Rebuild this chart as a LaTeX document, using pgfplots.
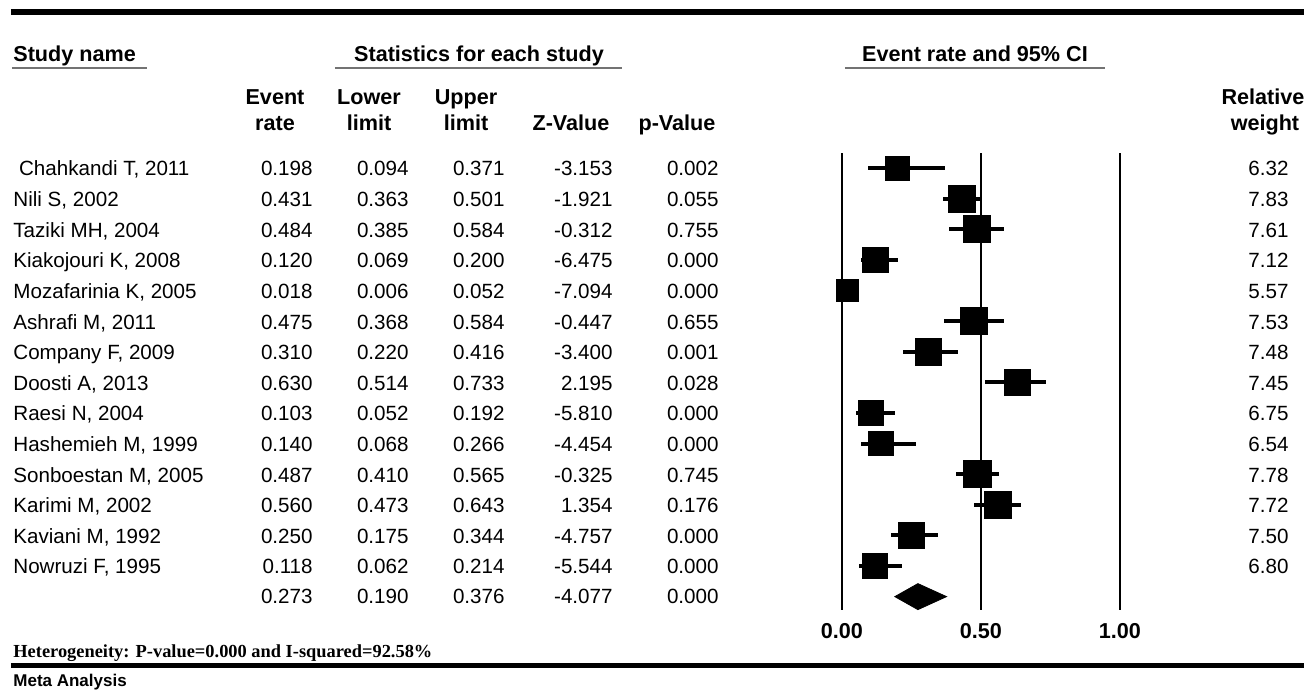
\documentclass[border=0pt]{standalone}
\usepackage{fontspec}
\setmainfont{Liberation Sans}
\newfontfamily\timesfont{Liberation Serif}
\usepackage{pgfplots}
\pgfplotsset{compat=1.18}
\usepackage{pgfplotstable}

% row, event rate, lower limit, upper limit, relative weight
\pgfplotstableread{
r  est   lo    hi    w
1  0.198 0.094 0.371 6.32
2  0.431 0.363 0.501 7.83
3  0.484 0.385 0.584 7.61
4  0.120 0.069 0.200 7.12
5  0.018 0.006 0.052 5.57
6  0.475 0.368 0.584 7.53
7  0.310 0.220 0.416 7.48
8  0.630 0.514 0.733 7.45
9  0.103 0.052 0.192 6.75
10 0.140 0.068 0.266 6.54
11 0.487 0.410 0.565 7.78
12 0.560 0.473 0.643 7.72
13 0.250 0.175 0.344 7.50
14 0.118 0.062 0.214 6.80
}\studies

\newcommand{\bodyfont}{\fontsize{10.3bp}{12bp}\selectfont}
\newcommand{\headfont}{\fontsize{10.8bp}{13bp}\selectfont\bfseries}

\begin{document}
\begin{tikzpicture}
\begin{axis}[
  at={(0,0)}, anchor=north west,
  scale only axis, width=652bp, height=346bp,
  xmin=-3.02878, xmax=1.66187,
  ymin=-4.4875, ymax=18.1157, y dir=reverse,
  hide axis, clip=false]
% reference lines at 0, 0.5, 1
\addplot[black, line width=1bp, forget plot] coordinates {(0,0.51) (0,15.44)};
\addplot[black, line width=1bp, forget plot] coordinates {(0.5,0.51) (0.5,15.44)};
\addplot[black, line width=1bp, forget plot] coordinates {(1,0.51) (1,15.44)};
% confidence intervals
\addplot[black, only marks, mark=none,
  error bars/.cd, x dir=both, x explicit, error mark=none,
  error bar style={line width=2bp}]
  table[x=est, y=r,
    x error plus expr=\thisrow{hi}-\thisrow{est},
    x error minus expr=\thisrow{est}-\thisrow{lo}] \studies;
% squares sized by weight
\addplot[scatter, only marks, mark=square*,
  scatter/use mapped color={draw=black, fill=black},
  visualization depends on={2.5+0.55*\thisrow{w} \as \msz},
  scatter/@pre marker code/.append style={/tikz/mark size=\msz bp}]
  table[x=est, y=r] \studies;
% pooled estimate
\addplot[black, fill=black] coordinates {(0.190,15) (0.273,14.575) (0.376,15) (0.273,15.425)} -- cycle;
\end{axis}

% text and rules, in pixel coordinates of the reference
\begin{scope}[x=0.5bp, y=-0.5bp, every node/.style={inner sep=0pt}]
\draw[line width=3bp] (11,12) -- (1304,12);
\draw[line width=2.5bp] (11,666) -- (1304,666);

\node[anchor=base west, font=\headfont] at (13,61) {Study name};
\node[anchor=base, font=\headfont] at (479,61) {Statistics for each study};
\node[anchor=base, font=\headfont] at (975,61) {Event rate and 95\% CI};
\draw[black!55, line width=1bp] (12,68) -- (147,68);
\draw[black!55, line width=1bp] (335,68) -- (622,68);
\draw[black!55, line width=1bp] (845,68) -- (1105,68);

\node[anchor=base, font=\headfont] at (275,105) {Event};
\node[anchor=base, font=\headfont] at (275,131) {rate};
\node[anchor=base, font=\headfont] at (369,105) {Lower};
\node[anchor=base, font=\headfont] at (369,131) {limit};
\node[anchor=base, font=\headfont] at (466,105) {Upper};
\node[anchor=base, font=\headfont] at (466,131) {limit};
\node[anchor=base, font=\headfont] at (571,131) {Z-Value};
\node[anchor=base, font=\headfont] at (677,131) {p-Value};
\node[anchor=base, font=\headfont] at (1263,105) {Relative};
\node[anchor=base, font=\headfont] at (1265,131) {weight};

\foreach \i/\nm/\er/\lo/\hi/\z/\p/\w in {
  1/{\ Chahkandi T, 2011}/0.198/0.094/0.371/-3.153/0.002/6.32,
  2/{Nili S, 2002}/0.431/0.363/0.501/-1.921/0.055/7.83,
  3/{Taziki MH, 2004}/0.484/0.385/0.584/-0.312/0.755/7.61,
  4/{Kiakojouri K, 2008}/0.120/0.069/0.200/-6.475/0.000/7.12,
  5/{Mozafarinia K, 2005}/0.018/0.006/0.052/-7.094/0.000/5.57,
  6/{Ashrafi M, 2011}/0.475/0.368/0.584/-0.447/0.655/7.53,
  7/{Company F, 2009}/0.310/0.220/0.416/-3.400/0.001/7.48,
  8/{Doosti A, 2013}/0.630/0.514/0.733/2.195/0.028/7.45,
  9/{Raesi N, 2004}/0.103/0.052/0.192/-5.810/0.000/6.75,
  10/{Hashemieh M, 1999}/0.140/0.068/0.266/-4.454/0.000/6.54,
  11/{Sonboestan M, 2005}/0.487/0.410/0.565/-0.325/0.745/7.78,
  12/{Karimi M, 2002}/0.560/0.473/0.643/1.354/0.176/7.72,
  13/{Kaviani M, 1992}/0.250/0.175/0.344/-4.757/0.000/7.50,
  14/{Nowruzi F, 1995}/0.118/0.062/0.214/-5.544/0.000/6.80}{
  \pgfmathsetmacro\yy{176+30.615*(\i-1)}
  \node[anchor=base west, font=\bodyfont] at (13,\yy) {\nm};
  \node[anchor=base east, font=\bodyfont] at (313,\yy) {\er};
  \node[anchor=base east, font=\bodyfont] at (409,\yy) {\lo};
  \node[anchor=base east, font=\bodyfont] at (505,\yy) {\hi};
  \node[anchor=base east, font=\bodyfont] at (613,\yy) {\z};
  \node[anchor=base east, font=\bodyfont] at (719,\yy) {\p};
  \node[anchor=base east, font=\bodyfont] at (1289,\yy) {\w};
}
\node[anchor=base east, font=\bodyfont] at (313,604) {0.273};
\node[anchor=base east, font=\bodyfont] at (409,604) {0.190};
\node[anchor=base east, font=\bodyfont] at (505,604) {0.376};
\node[anchor=base east, font=\bodyfont] at (613,604) {-4.077};
\node[anchor=base east, font=\bodyfont] at (719,604) {0.000};

\node[anchor=base, font=\headfont] at (842,639) {0.00};
\node[anchor=base, font=\headfont] at (981,639) {0.50};
\node[anchor=base, font=\headfont] at (1120,639) {1.00};

\node[anchor=base west, font=\timesfont\bfseries\fontsize{9.2bp}{11bp}\selectfont] at (13,658)
  {Heterogeneity: P-value=0.000 and I-squared=92.58\%};
\node[anchor=base west, font=\fontsize{8.5bp}{10bp}\selectfont\bfseries] at (13,687) {Meta Analysis};
\end{scope}
\pgfresetboundingbox
\path[use as bounding box] (0,0) rectangle (652bp,-346bp);
\end{tikzpicture}
\end{document}
